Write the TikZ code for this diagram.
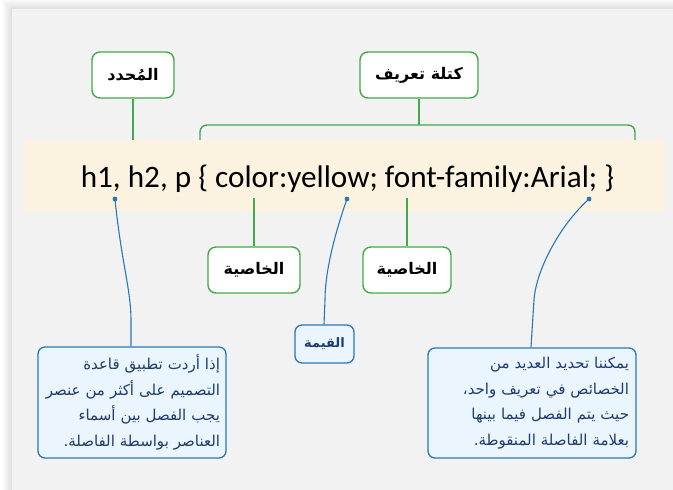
\documentclass[tikz,border=0pt]{standalone}
\usepackage{fontspec}
\newfontfamily\arabicfont[Script=Arabic]{DejaVu Sans}
\newfontfamily\codefont{Carlito}
\TeXXeTstate=1
\newcommand{\arl}[1]{\beginR #1\endR}
\definecolor{panelgray}{HTML}{F2F2F2}
\definecolor{bandcream}{HTML}{FBF3E0}
\definecolor{gline}{HTML}{43A94A}
\definecolor{bline}{HTML}{2A78B8}
\definecolor{bfill}{HTML}{EAF5FD}
\definecolor{btext}{HTML}{1E3C6E}
\tikzset{
  gbox/.style={draw=gline, line width=1.4pt, fill=white, rounded corners=8pt, inner sep=0pt, font=\arabicfont\bfseries\fontsize{16}{19}\selectfont, text=black},
  bbox/.style={draw=bline, line width=1.3pt, fill=bfill, rounded corners=7pt, inner sep=0pt, font=\arabicfont\fontsize{15}{25.5}\selectfont, text=btext},
  gconn/.style={draw=gline, line width=1.4pt},
  bconn/.style={draw=bline, line width=1.1pt},
}
\begin{document}
\begin{tikzpicture}[x=1pt,y=-1pt]
\useasboundingbox (0,0) rectangle (673,490);
\fill[white] (0,0) rectangle (673,490);
% shadow of panel
\foreach \i in {1,...,10}{
  \fill[black, opacity=0.012] ({12-\i},{9-\i}) rectangle (673,490);
}
\fill[panelgray] (12,9) rectangle (673,490);
% code band
\coordinate (bandnw) at (23,140);
\coordinate (bandse) at (665,211);
\fill[bandcream, rounded corners=2pt] (bandnw) rectangle (bandse);
\node[anchor=base, font=\codefont\fontsize{31.2}{36}\selectfont, inner sep=0pt] (code) at (347.5,187) {h1, h2, p \{ color:yellow; font-family:Arial; \}};
% green label boxes
\node[gbox, minimum width=82pt, minimum height=46pt] (sel) at (133,75) {\arl{المُحدد}};
\node[gbox, minimum width=118pt, minimum height=46pt] (blk) at (419,75) {\arl{كتلة تعريف}};
\node[gbox, minimum width=92pt, minimum height=46pt] (prop1) at (254,270) {\arl{الخاصية}};
\node[gbox, minimum width=88pt, minimum height=46pt] (prop2) at (407,270) {\arl{الخاصية}};
% blue boxes
\node[bbox, minimum width=59pt, minimum height=38pt, font=\arabicfont\bfseries\fontsize{13}{16}\selectfont] (val) at (324.5,344) {\arl{القيمة}};
\node[bbox, minimum width=188pt, minimum height=111pt, align=right, text width=176pt] (lnote) at (132,402.5) {\arl{إذا أردت تطبيق قاعدة}\\ \arl{التصميم على أكثر من عنصر}\\ \arl{يجب الفصل بين أسماء}\\ \arl{العناصر بواسطة الفاصلة.}};
\node[bbox, minimum width=208pt, minimum height=110pt, align=right, text width=194pt] (rnote) at (532,403) {\arl{يمكننا تحديد العديد من}\\ \arl{الخصائص في تعريف واحد،}\\ \arl{حيث يتم الفصل فيما بينها}\\ \arl{بعلامة الفاصلة المنقوطة.}};
% coordinates
\coordinate (selend) at (133,140);
\coordinate (brmid) at (419,125);
\coordinate (brl) at (200,140);
\coordinate (brr) at (635,140);
\coordinate (p1top) at (254,198);
\coordinate (p2top) at (407,198);
\coordinate (d1) at (115,199);
\coordinate (d2) at (347,199);
\coordinate (d3) at (589,199);
% green connectors
\draw[gconn] (sel.south) -- (selend);
\draw[gconn] (blk.south) -- (brmid);
\draw[gconn, rounded corners=7pt] (brl) |- (brmid) -| (brr);
\draw[gconn] (p1top) -- (prop1.north);
\draw[gconn] (p2top) -- (prop2.north);
% blue connectors
\draw[bconn] (d1) .. controls (121,260) and (131,290) .. (131,320) -- (lnote.north -| 131,0);
\draw[bconn] (d2) .. controls (336,230) and (325,270) .. (325,300) -- (val.north -| 324,0);
\draw[bconn] (d3) .. controls (560,225) and (536,270) .. (534,300) -- (rnote.north -| 531,0);
\fill[bline] (d1) circle (2.4);
\fill[bline] (d2) circle (2.4);
\fill[bline] (d3) circle (2.4);
\end{tikzpicture}
\end{document}
